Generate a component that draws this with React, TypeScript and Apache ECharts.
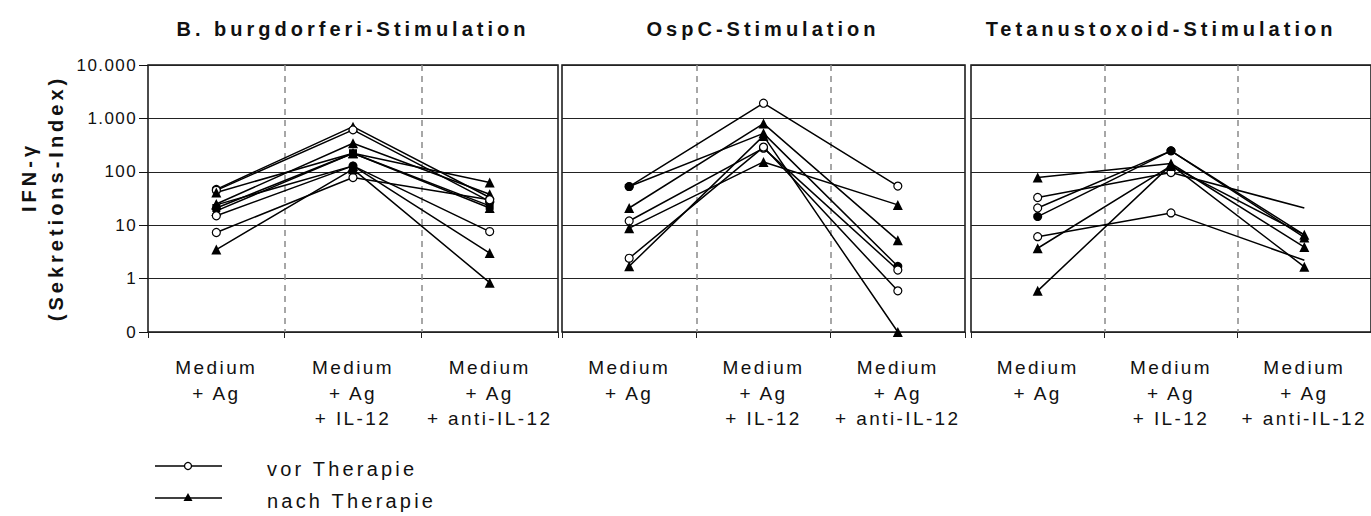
import React, { useEffect, useRef } from "react";
import * as echarts from "echarts";

// ---------- data ----------
const categories = ["Medium\n+ Ag", "Medium\n+ Ag\n+ IL-12", "Medium\n+ Ag\n+ anti-IL-12"];
const panelTitles = ["B. burgdorferi-Stimulation", "OspC-Stimulation", "Tetanustoxoid-Stimulation"];
const yTickLabels = ["0", "1", "10", "100", "1.000", "10.000"]; // 0.1 .. 10000
const yAxisTitle = ["IFN-\u03b3", "(Sekretions-Index)"];
const legendLabels = ["vor Therapie", "nach Therapie"];

// marker codes: o = vor Therapie (open circle), t = nach Therapie (triangle),
// f = filled circle, s = filled square, n = no marker
const burgdorferiValues = [
  [47, 700, 33],
  [45, 610, 28],
  [41, 223, 63],
  [25, 343, 38],
  [21, 223, 23],
  [18.5, 223, 21],
  [15, 129, 7.6],
  [7.3, 78, 30],
  [3.5, 112, 0.84],
  [24, 129, 3],
];
const burgdorferiMarkers = ["ftt", "ooo", "ttt", "ttt", "sss", "ttt", "ofo", "ooo", "ttt", "ttt"];

const ospcValues = [
  [53, 1925, 54],
  [53, 525, 1.7],
  [21, 800, 5.2],
  [12, 277, 1.45],
  [8.8, 153, 24],
  [2.4, 290, 0.59],
  [1.7, 470, 0.1],
];
const ospcMarkers = ["foo", "ftf", "ttt", "ooo", "ttt", "ooo", "ttt"];

const tetanusValues = [
  [78, 143, 3.9],
  [33, 97, 21],
  [21, 247, 6.6],
  [14.5, 247, 5.9],
  [6.1, 17, 2.2],
  [3.7, 129, 6.6],
  [0.59, 135, 1.66],
];
const tetanusMarkers = ["ttt", "oon", "ofn", "fft", "oon", "ttt", "ttt"];

const panelValues = [burgdorferiValues, ospcValues, tetanusValues];
const panelMarkers = [burgdorferiMarkers, ospcMarkers, tetanusMarkers];

// ---------- styling ----------
const FONT = '"Liberation Sans", Arial, Helvetica, sans-serif';
// letter spacing keyed by font size (+ "b" for bold)
const letterSpacingByFont: Record<string, number> = { "20b": 4, "20": 3.2, "19": 2.4, "17": 1.4 };

const gridBoxes = [
  { left: 148, top: 65, width: 410, height: 267 },
  { left: 562, top: 65, width: 403, height: 267 },
  { left: 971, top: 65, width: 403, height: 267 },
];
const titleCenters = [353, 763, 1161];

function markerStyle(code: string) {
  switch (code) {
    case "o":
      return { symbol: "circle", symbolSize: 8, itemStyle: { color: "#fff", borderColor: "#000", borderWidth: 1.2 } };
    case "t":
      return { symbol: "triangle", symbolSize: 10, itemStyle: { color: "#000", borderWidth: 0 } };
    case "f":
      return { symbol: "circle", symbolSize: 9, itemStyle: { color: "#000", borderWidth: 0 } };
    case "s":
      return { symbol: "rect", symbolSize: 8, itemStyle: { color: "#000", borderWidth: 0 } };
    default:
      return { symbol: "none", symbolSize: 0 };
  }
}

function applyLetterSpacing(root: HTMLElement | null) {
  if (!root) return;
  root.querySelectorAll("text").forEach((t) => {
    const st = t.getAttribute("style") || "";
    const s = st + " " + (t.getAttribute("font-size") || "") + "px";
    const m = s.match(/(\d+(?:\.\d+)?)px/);
    if (!m) return;
    const bold = /bold/.test(st) || t.getAttribute("font-weight") === "bold";
    const key = String(Math.round(parseFloat(m[1]))) + (bold ? "b" : "");
    const sp = letterSpacingByFont[key];
    if (sp !== undefined) t.setAttribute("letter-spacing", String(sp));
  });
}

function yLabel(v: number) {
  const e = Math.round(Math.log10(v));
  return yTickLabels[e + 1] ?? "";
}

export default function App() {
  const ref = useRef<HTMLDivElement>(null);

  useEffect(() => {
    document.body.style.margin = "0";
    if (!ref.current) return;
    const chart = echarts.init(ref.current, null, { renderer: "svg" });

    const grid = gridBoxes.map((g) => ({
      ...g,
      show: true,
      borderColor: "#111",
      borderWidth: 1.5,
      backgroundColor: "transparent",
      containLabel: false,
    }));

    const xAxis = gridBoxes.map((_, i) => ({
      type: "category",
      gridIndex: i,
      data: categories,
      boundaryGap: true,
      axisLine: { show: false },
      axisTick: { show: true, interval: 0, length: 6, lineStyle: { color: "#222", width: 1 } },
      axisLabel: {
        interval: 0,
        fontFamily: FONT,
        fontSize: 19,
        lineHeight: 25.5,
        color: "#111",
        margin: 23,
      },
      splitLine: {
        show: true,
        interval: 0,
        showMinLine: false,
        showMaxLine: false,
        lineStyle: { color: "#8a8a8a", width: 1.5, type: [6, 5] },
      },
    }));

    const yAxis = gridBoxes.map((_, i) => ({
      type: "log",
      logBase: 10,
      gridIndex: i,
      min: 0.1,
      max: 10000,
      splitNumber: 5,
      axisLine: { show: false },
      axisTick: { show: i === 0, length: 9, lineStyle: { color: "#111", width: 1 } },
      axisLabel: {
        show: i === 0,
        formatter: yLabel,
        fontFamily: FONT,
        fontSize: 17,
        color: "#111",
        margin: 11,
      },
      splitLine: { show: true, lineStyle: { color: "#222", width: 1 } },
    }));

    const series: any[] = [];
    panelValues.forEach((rows, p) => {
      rows.forEach((vals, s) => {
        const codes = panelMarkers[p][s];
        series.push({
          type: "line",
          xAxisIndex: p,
          yAxisIndex: p,
          silent: true,
          symbol: "circle",
          lineStyle: { color: "#000", width: 1.5 },
          itemStyle: { color: "#000" },
          emphasis: { disabled: true },
          data: vals.map((v, k) => ({ value: v, ...markerStyle(codes[k]) })),
          z: 3,
        });
      });
    });

    const graphic: any[] = [];
    panelTitles.forEach((t, i) => {
      graphic.push({
        type: "text",
        x: titleCenters[i],
        y: 29,
        style: {
          text: t,
          fontFamily: FONT,
          fontSize: 20,
          fontWeight: "bold",
          fill: "#111",
          textAlign: "center",
          textVerticalAlign: "middle",
        },
      });
    });
    const yTitleX = [29, 56];
    const yTitleY = [177, 198];
    yAxisTitle.forEach((t, i) => {
      graphic.push({
        type: "text",
        x: yTitleX[i],
        y: yTitleY[i],
        rotation: Math.PI / 2,
        style: {
          text: t,
          fontFamily: FONT,
          fontSize: 20,
          fontWeight: "bold",
          fill: "#111",
          textAlign: "center",
          textVerticalAlign: "middle",
        },
      });
    });
    // legend
    const legY = [466, 498];
    legY.forEach((y, i) => {
      graphic.push({
        type: "line",
        shape: { x1: 155, y1: y, x2: 222, y2: y },
        style: { stroke: "#000", lineWidth: 1.5 },
      });
      if (i === 0) {
        graphic.push({
          type: "circle",
          shape: { cx: 188, cy: y, r: 3.5 },
          style: { fill: "#fff", stroke: "#000", lineWidth: 1.3 },
        });
      } else {
        graphic.push({
          type: "polygon",
          shape: { points: [[188, y - 5], [183.5, y + 3], [192.5, y + 3]] },
          style: { fill: "#000" },
        });
      }
      graphic.push({
        type: "text",
        x: 267,
        y: y + 3,
        style: {
          text: legendLabels[i],
          fontFamily: FONT,
          fontSize: 20,
          fill: "#111",
          textAlign: "left",
          textVerticalAlign: "middle",
        },
      });
    });

    chart.setOption({
      animation: false,
      grid,
      xAxis,
      yAxis,
      series,
      graphic,
    } as any);

    applyLetterSpacing(ref.current);
    chart.on("finished", () => applyLetterSpacing(ref.current));

    return () => {
      chart.dispose();
    };
  }, []);

  return <div ref={ref} style={{ width: 1371, height: 516 }} />;
}
